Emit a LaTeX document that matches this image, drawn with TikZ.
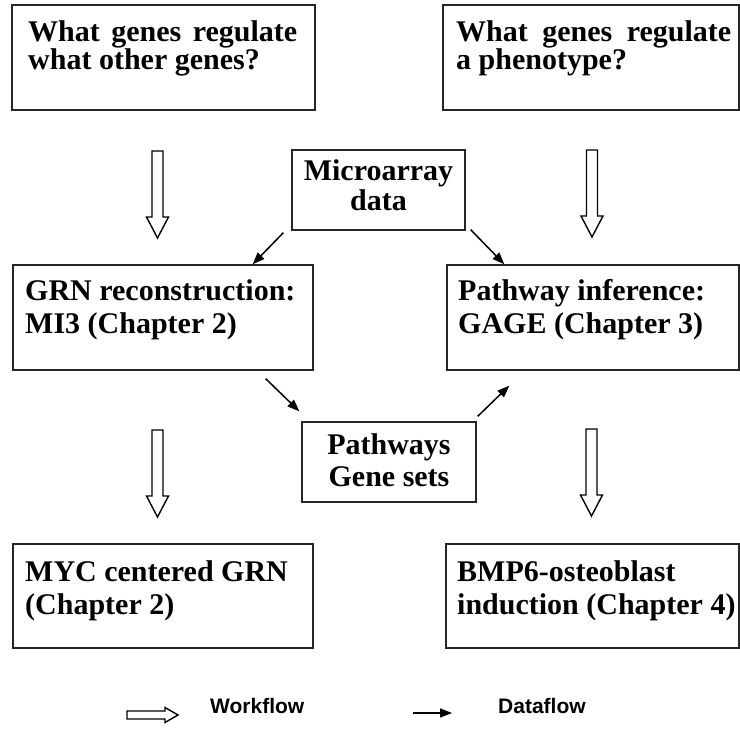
\documentclass[tikz,border=0pt]{standalone}
\usepackage{fontspec}
\setmainfont{Liberation Serif}
\newfontfamily\legendfont{Liberation Sans}
\usetikzlibrary{calc,arrows.meta}
\begin{document}
\begin{tikzpicture}[x=1pt,y=-1pt,
  box/.style={draw=black!85, line width=1.4pt, rectangle, inner sep=0pt},
  txt/.style={anchor=base west, inner sep=0pt, font=\fontsize{30}{32}\selectfont\bfseries},
  ctxt/.style={anchor=base, inner sep=0pt, font=\fontsize{30}{32}\selectfont\bfseries},
  legtxt/.style={anchor=base west, inner sep=0pt, font=\legendfont\bfseries\fontsize{21}{24}\selectfont},
  dataflow/.style={line width=1.5pt, -{Triangle[length=12pt,width=9pt]}},
  workflow/.style={draw=black, line width=1.4pt, fill=white, line join=miter},
  wfdown/.pic={\draw[workflow] (-5.5,0) -- (-5.5,66) -- (-11,66) -- (0,87) -- (11,66) -- (5.5,66) -- (5.5,0) -- cycle;},
  wfright/.pic={\draw[workflow] (0,-4) -- (38,-4) -- (38,-7.5) -- (51,0) -- (38,7.5) -- (38,4) -- (0,4) -- cycle;}
]
\useasboundingbox (0,0) rectangle (740,738);

% questions
\node[box, minimum width=303pt, minimum height=105pt] (q1) at (163.5,57.5) {};
\node[txt] (q1a) at (28,42) {\makebox[269pt][s]{What genes regulate}};
\node[txt] (q1b) at (28,70) {what other genes?};

\node[box, minimum width=296pt, minimum height=105pt] (q2) at (591,57.5) {};
\node[txt] (q2a) at (456,42) {\makebox[275pt][s]{What genes regulate}};
\node[txt] (q2b) at (456,70) {a phenotype?};

% data sources
\node[box, minimum width=173pt, minimum height=80pt] (mic) at (378.5,190) {};
\node[ctxt] (mica) at (378.5,181) {Microarray};
\node[ctxt] (micb) at (378.5,211) {data};

\node[box, minimum width=174pt, minimum height=80pt] (pw) at (389,462) {};
\node[ctxt] (pwa) at (389,454) {Pathways};
\node[ctxt] (pwb) at (389,486) {Gene sets};

% methods
\node[box, minimum width=300pt, minimum height=105pt] (grn) at (163,317.5) {};
\node[txt] (grna) at (25,301) {GRN reconstruction:};
\node[txt] (grnb) at (25,334) {MI3 (Chapter 2)};

\node[box, minimum width=292pt, minimum height=105pt] (pi) at (593,317.5) {};
\node[txt] (pia) at (458,301) {Pathway inference:};
\node[txt] (pib) at (458,334) {GAGE (Chapter 3)};

% results
\node[box, minimum width=300pt, minimum height=104pt] (myc) at (163,596) {};
\node[txt] (myca) at (25,581) {MYC centered GRN};
\node[txt] (mycb) at (25,614) {(Chapter 2)};

\node[box, minimum width=293pt, minimum height=104pt] (bmp) at (592.5,596) {};
\node[txt] (bmpa) at (457,581) {BMP6-osteoblast};
\node[txt] (bmpb) at (457,614) {induction (Chapter 4)};

% workflow arrows
\pic (wf1) at (157.5,151) {wfdown};
\pic (wf2) at (592,150) {wfdown};
\pic (wf3) at (157.5,430) {wfdown};
\pic (wf4) at (591.5,429) {wfdown};

% dataflow arrows
\draw[dataflow] ($(mic.south west)+(-8,2)$) -- ($(grn.north east)+(-61,0)$);
\draw[dataflow] ($(mic.south east)+(5,-1)$) -- ($(pi.north west)+(58,0)$);
\draw[dataflow] ($(grn.south east)+(-48,8)$) -- ($(pw.north west)+(-2,-10)$);
\draw[dataflow] ($(pw.north east)+(1,-5)$) -- ($(pi.south west)+(63,15)$);

% legend
\pic (lgw) at (127,715) {wfright};
\node[legtxt] (lgwt) at (210,713) {Workflow};
\coordinate (lgds) at (413,713);
\coordinate (lgde) at (452,713);
\draw[dataflow] (lgds) -- (lgde);
\node[legtxt] (lgdt) at (498,713) {Dataflow};
\end{tikzpicture}
\end{document}
